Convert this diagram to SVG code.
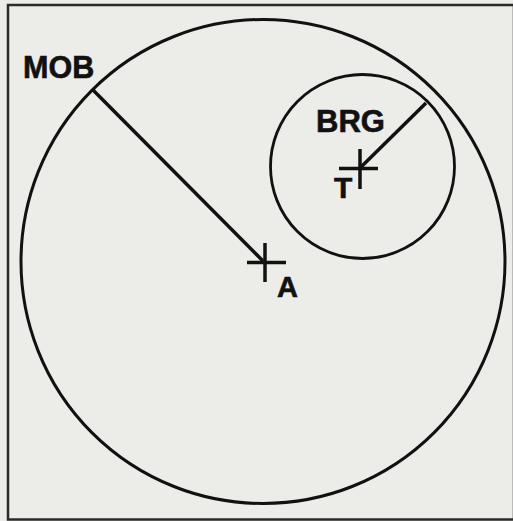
<svg xmlns="http://www.w3.org/2000/svg" width="513" height="521" viewBox="0 0 513 521">
<style>
.ln{stroke:#111;fill:none;stroke-linecap:butt}
.lbl{font-family:"Liberation Sans",Arial,sans-serif;font-weight:bold;fill:#111;stroke:#111;stroke-width:0.6}
</style>
<rect x="0" y="0" width="513" height="521" fill="#ecece9"/>
<rect id="frame" x="8" y="5" width="506" height="514.5" fill="none" stroke="#2a2a2a" stroke-width="2.5"/>
<g id="outer-circle">
<circle class="ln" cx="263" cy="261.5" r="242" stroke-width="3"/>
</g>
<g id="inner-circle">
<circle class="ln" cx="362.5" cy="166.5" r="92" stroke-width="2.8"/>
</g>
<g id="connectors">
<line class="ln" x1="92" y1="89" x2="263" y2="261" stroke-width="3.5"/>
<line class="ln" x1="426" y1="103" x2="361" y2="167" stroke-width="3.5"/>
</g>
<g id="node-A">
<line class="ln" x1="265" y1="243" x2="265" y2="282" stroke-width="3.5"/>
<line class="ln" x1="247" y1="262.5" x2="286" y2="262.5" stroke-width="3.5"/>
<text class="lbl" x="277" y="297" font-size="29">A</text>
</g>
<g id="node-T">
<line class="ln" x1="360" y1="149" x2="360" y2="189" stroke-width="3.5"/>
<line class="ln" x1="339" y1="168.5" x2="378" y2="168.5" stroke-width="3.5"/>
<text class="lbl" x="334" y="198" font-size="30">T</text>
</g>
<g id="node-MOB">
<text class="lbl" x="23" y="78" font-size="30.5">MOB</text>
</g>
<g id="node-BRG">
<text class="lbl" x="316" y="132" font-size="31">BRG</text>
</g>
</svg>
